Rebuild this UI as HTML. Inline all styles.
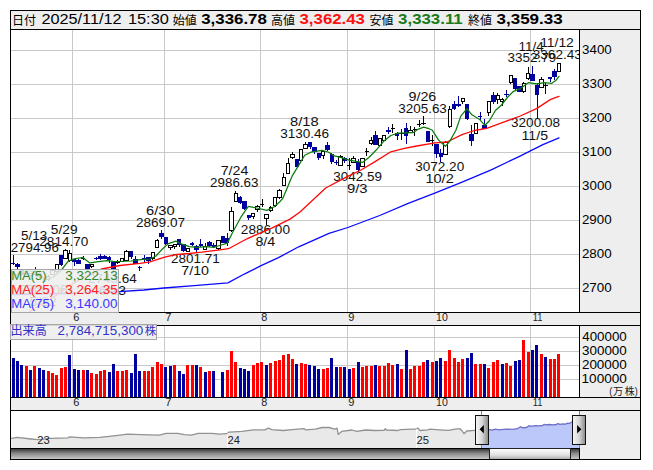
<!DOCTYPE html>
<html><head><meta charset="utf-8"><title>chart</title>
<style>html,body{margin:0;padding:0;background:#fff;overflow:hidden}svg{display:block}</style>
</head><body>
<svg width="653" height="470" viewBox="0 0 653 470" font-family="Liberation Sans, sans-serif" shape-rendering="crispEdges">
<defs><linearGradient id="trk" x1="0" y1="0" x2="0" y2="1"><stop offset="0" stop-color="#2a2a2a"/><stop offset="0.5" stop-color="#8a8a8a"/><stop offset="1" stop-color="#c8c8c8"/></linearGradient><linearGradient id="thm" x1="0" y1="0" x2="0" y2="1"><stop offset="0" stop-color="#ffffff"/><stop offset="0.6" stop-color="#e0e0e0"/><stop offset="1" stop-color="#a8a8a8"/></linearGradient><linearGradient id="hnd" x1="0" y1="0" x2="1" y2="0"><stop offset="0" stop-color="#f8f8f8"/><stop offset="0.5" stop-color="#d8d8d8"/><stop offset="1" stop-color="#888"/></linearGradient><clipPath id="cpm"><rect x="11" y="30" width="568" height="282"/></clipPath><clipPath id="cpv"><rect x="11" y="326" width="568" height="71"/></clipPath></defs>
<rect x="0" y="0" width="653" height="470" fill="#fff"/>
<rect x="10" y="10" width="631" height="20" fill="#eee"/>
<rect x="579" y="29" width="62" height="430" fill="#eee"/>
<rect x="10" y="312" width="631" height="14" fill="#eee"/>
<rect x="10" y="397" width="631" height="14" fill="#eee"/>
<rect x="72" y="30" width="1" height="282" fill="#c9c9c9"/>
<rect x="72" y="326" width="1" height="71" fill="#c9c9c9"/>
<rect x="164" y="30" width="1" height="282" fill="#c9c9c9"/>
<rect x="164" y="326" width="1" height="71" fill="#c9c9c9"/>
<rect x="260" y="30" width="1" height="282" fill="#c9c9c9"/>
<rect x="260" y="326" width="1" height="71" fill="#c9c9c9"/>
<rect x="347" y="30" width="1" height="282" fill="#c9c9c9"/>
<rect x="347" y="326" width="1" height="71" fill="#c9c9c9"/>
<rect x="434" y="30" width="1" height="282" fill="#c9c9c9"/>
<rect x="434" y="326" width="1" height="71" fill="#c9c9c9"/>
<rect x="530" y="30" width="1" height="282" fill="#c9c9c9"/>
<rect x="530" y="326" width="1" height="71" fill="#c9c9c9"/>
<rect x="11" y="50" width="568" height="1" fill="#c9c9c9"/>
<rect x="11" y="84" width="568" height="1" fill="#c9c9c9"/>
<rect x="11" y="118" width="568" height="1" fill="#c9c9c9"/>
<rect x="11" y="152" width="568" height="1" fill="#c9c9c9"/>
<rect x="11" y="186" width="568" height="1" fill="#c9c9c9"/>
<rect x="11" y="220" width="568" height="1" fill="#c9c9c9"/>
<rect x="11" y="254" width="568" height="1" fill="#c9c9c9"/>
<rect x="11" y="288" width="568" height="1" fill="#c9c9c9"/>
<rect x="11" y="337" width="568" height="1" fill="#c9c9c9"/>
<rect x="11" y="351" width="568" height="1" fill="#c9c9c9"/>
<rect x="11" y="365" width="568" height="1" fill="#c9c9c9"/>
<rect x="11" y="379" width="568" height="1" fill="#c9c9c9"/>
<g clip-path="url(#cpm)">
<rect x="13" y="255" width="1" height="10" fill="#00009f"/>
<rect x="11" y="263" width="4" height="1" fill="#00009f"/>
<rect x="17" y="263" width="1" height="6" fill="#00009f"/>
<rect x="15" y="264" width="5" height="3" fill="#00009f"/>
<rect x="21" y="270" width="1" height="6" fill="#00009f"/>
<rect x="20" y="270" width="4" height="5" fill="#00009f"/>
<rect x="26" y="272" width="1" height="5" fill="#00009f"/>
<rect x="24" y="273" width="4" height="1" fill="#00009f"/>
<rect x="30" y="273" width="1" height="4" fill="#000"/>
<rect x="28.5" y="273.5" width="4" height="2" fill="#fff" stroke="#000" stroke-width="1"/>
<rect x="35" y="267" width="1" height="9" fill="#00009f"/>
<rect x="33" y="271" width="4" height="4" fill="#00009f"/>
<rect x="39" y="272" width="1" height="6" fill="#00009f"/>
<rect x="37" y="273" width="5" height="4" fill="#00009f"/>
<rect x="43" y="278" width="1" height="8" fill="#00009f"/>
<rect x="42" y="281" width="4" height="1" fill="#00009f"/>
<rect x="48" y="275" width="1" height="6" fill="#000"/>
<rect x="46.5" y="276.5" width="3" height="3" fill="#fff" stroke="#000" stroke-width="1"/>
<rect x="52" y="270" width="1" height="5" fill="#000"/>
<rect x="50.5" y="270.5" width="4" height="4" fill="#fff" stroke="#000" stroke-width="1"/>
<rect x="56" y="264" width="1" height="9" fill="#000"/>
<rect x="55.5" y="264.5" width="3" height="7" fill="#fff" stroke="#000" stroke-width="1"/>
<rect x="61" y="255" width="1" height="11" fill="#00009f"/>
<rect x="59" y="255" width="4" height="10" fill="#00009f"/>
<rect x="65" y="249" width="1" height="10" fill="#000"/>
<rect x="63.5" y="250.5" width="4" height="8" fill="#fff" stroke="#000" stroke-width="1"/>
<rect x="69" y="250" width="1" height="12" fill="#000"/>
<rect x="68.5" y="253.5" width="3" height="7" fill="#fff" stroke="#000" stroke-width="1"/>
<rect x="74" y="259" width="1" height="7" fill="#00009f"/>
<rect x="72" y="259" width="4" height="3" fill="#00009f"/>
<rect x="78" y="259" width="1" height="5" fill="#00009f"/>
<rect x="76" y="260" width="5" height="4" fill="#00009f"/>
<rect x="83" y="256" width="1" height="4" fill="#000"/>
<rect x="81" y="258" width="4" height="1" fill="#000"/>
<rect x="87" y="264" width="1" height="7" fill="#00009f"/>
<rect x="85" y="264" width="5" height="6" fill="#00009f"/>
<rect x="91" y="264" width="1" height="4" fill="#000"/>
<rect x="90.5" y="264.5" width="3" height="2" fill="#fff" stroke="#000" stroke-width="1"/>
<rect x="96" y="257" width="1" height="3" fill="#00009f"/>
<rect x="94" y="258" width="4" height="1" fill="#00009f"/>
<rect x="100" y="254" width="1" height="6" fill="#00009f"/>
<rect x="98" y="256" width="5" height="3" fill="#00009f"/>
<rect x="104" y="255" width="1" height="4" fill="#00009f"/>
<rect x="103" y="256" width="4" height="3" fill="#00009f"/>
<rect x="109" y="256" width="1" height="7" fill="#00009f"/>
<rect x="107" y="257" width="4" height="3" fill="#00009f"/>
<rect x="113" y="262" width="1" height="11" fill="#00009f"/>
<rect x="111" y="262" width="5" height="8" fill="#00009f"/>
<rect x="117" y="260" width="1" height="4" fill="#000"/>
<rect x="116" y="262" width="4" height="1" fill="#000"/>
<rect x="122" y="258" width="1" height="4" fill="#000"/>
<rect x="120.5" y="258.5" width="3" height="3" fill="#fff" stroke="#000" stroke-width="1"/>
<rect x="126" y="250" width="1" height="11" fill="#000"/>
<rect x="124.5" y="251.5" width="4" height="9" fill="#fff" stroke="#000" stroke-width="1"/>
<rect x="131" y="251" width="1" height="8" fill="#00009f"/>
<rect x="129" y="251" width="4" height="6" fill="#00009f"/>
<rect x="135" y="256" width="1" height="8" fill="#00009f"/>
<rect x="133" y="259" width="5" height="5" fill="#00009f"/>
<rect x="139" y="266" width="1" height="5" fill="#00009f"/>
<rect x="138" y="267" width="4" height="1" fill="#00009f"/>
<rect x="144" y="255" width="1" height="7" fill="#00009f"/>
<rect x="142" y="258" width="4" height="2" fill="#00009f"/>
<rect x="148" y="257" width="1" height="7" fill="#00009f"/>
<rect x="146" y="257" width="5" height="4" fill="#00009f"/>
<rect x="152" y="252" width="1" height="8" fill="#000"/>
<rect x="151.5" y="252.5" width="3" height="6" fill="#fff" stroke="#000" stroke-width="1"/>
<rect x="157" y="239" width="1" height="9" fill="#000"/>
<rect x="155.5" y="240.5" width="3" height="7" fill="#fff" stroke="#000" stroke-width="1"/>
<rect x="161" y="230" width="1" height="9" fill="#00009f"/>
<rect x="159" y="233" width="5" height="4" fill="#00009f"/>
<rect x="165" y="237" width="1" height="8" fill="#00009f"/>
<rect x="164" y="237" width="4" height="7" fill="#00009f"/>
<rect x="170" y="245" width="1" height="5" fill="#000"/>
<rect x="168.5" y="245.5" width="4" height="2" fill="#fff" stroke="#000" stroke-width="1"/>
<rect x="174" y="244" width="1" height="5" fill="#000"/>
<rect x="173.5" y="244.5" width="3" height="2" fill="#fff" stroke="#000" stroke-width="1"/>
<rect x="179" y="239" width="1" height="8" fill="#00009f"/>
<rect x="177" y="239" width="4" height="6" fill="#00009f"/>
<rect x="183" y="244" width="1" height="8" fill="#00009f"/>
<rect x="181" y="244" width="5" height="7" fill="#00009f"/>
<rect x="187" y="248" width="1" height="4" fill="#000"/>
<rect x="186.5" y="248.5" width="3" height="3" fill="#fff" stroke="#000" stroke-width="1"/>
<rect x="192" y="242" width="1" height="4" fill="#00009f"/>
<rect x="190" y="243" width="4" height="2" fill="#00009f"/>
<rect x="196" y="245" width="1" height="8" fill="#00009f"/>
<rect x="194" y="246" width="5" height="4" fill="#00009f"/>
<rect x="200" y="239" width="1" height="8" fill="#00009f"/>
<rect x="199" y="244" width="4" height="2" fill="#00009f"/>
<rect x="205" y="243" width="1" height="7" fill="#000"/>
<rect x="203.5" y="246.5" width="3" height="3" fill="#fff" stroke="#000" stroke-width="1"/>
<rect x="209" y="241" width="1" height="6" fill="#00009f"/>
<rect x="207" y="242" width="5" height="4" fill="#00009f"/>
<rect x="213" y="243" width="1" height="5" fill="#00009f"/>
<rect x="212" y="245" width="4" height="2" fill="#00009f"/>
<rect x="218" y="240" width="1" height="10" fill="#000"/>
<rect x="216.5" y="240.5" width="4" height="8" fill="#fff" stroke="#000" stroke-width="1"/>
<rect x="222" y="236" width="1" height="7" fill="#00009f"/>
<rect x="221" y="236" width="4" height="7" fill="#00009f"/>
<rect x="227" y="233" width="1" height="13" fill="#00009f"/>
<rect x="225" y="238" width="4" height="5" fill="#00009f"/>
<rect x="231" y="207" width="1" height="25" fill="#000"/>
<rect x="229.5" y="211.5" width="4" height="19" fill="#fff" stroke="#000" stroke-width="1"/>
<rect x="235" y="191" width="1" height="11" fill="#000"/>
<rect x="234.5" y="193.5" width="3" height="8" fill="#fff" stroke="#000" stroke-width="1"/>
<rect x="240" y="196" width="1" height="8" fill="#00009f"/>
<rect x="238" y="197" width="4" height="6" fill="#00009f"/>
<rect x="244" y="201" width="1" height="9" fill="#00009f"/>
<rect x="242" y="201" width="5" height="8" fill="#00009f"/>
<rect x="248" y="215" width="1" height="5" fill="#00009f"/>
<rect x="247" y="215" width="4" height="3" fill="#00009f"/>
<rect x="253" y="213" width="1" height="6" fill="#000"/>
<rect x="251.5" y="213.5" width="3" height="3" fill="#fff" stroke="#000" stroke-width="1"/>
<rect x="257" y="205" width="1" height="7" fill="#000"/>
<rect x="255.5" y="206.5" width="4" height="3" fill="#fff" stroke="#000" stroke-width="1"/>
<rect x="262" y="199" width="1" height="8" fill="#000"/>
<rect x="260" y="204" width="4" height="1" fill="#000"/>
<rect x="266" y="214" width="1" height="11" fill="#000"/>
<rect x="264.5" y="214.5" width="4" height="4" fill="#fff" stroke="#000" stroke-width="1"/>
<rect x="270" y="206" width="1" height="6" fill="#000"/>
<rect x="269.5" y="207.5" width="3" height="3" fill="#fff" stroke="#000" stroke-width="1"/>
<rect x="275" y="197" width="1" height="10" fill="#000"/>
<rect x="273.5" y="197.5" width="3" height="8" fill="#fff" stroke="#000" stroke-width="1"/>
<rect x="279" y="189" width="1" height="10" fill="#000"/>
<rect x="277.5" y="190.5" width="4" height="7" fill="#fff" stroke="#000" stroke-width="1"/>
<rect x="283" y="173" width="1" height="13" fill="#000"/>
<rect x="282.5" y="177.5" width="3" height="8" fill="#fff" stroke="#000" stroke-width="1"/>
<rect x="288" y="158" width="1" height="16" fill="#000"/>
<rect x="286.5" y="163.5" width="3" height="10" fill="#fff" stroke="#000" stroke-width="1"/>
<rect x="292" y="152" width="1" height="7" fill="#000"/>
<rect x="290.5" y="154.5" width="4" height="3" fill="#fff" stroke="#000" stroke-width="1"/>
<rect x="296" y="159" width="1" height="8" fill="#00009f"/>
<rect x="295" y="159" width="4" height="8" fill="#00009f"/>
<rect x="301" y="149" width="1" height="12" fill="#000"/>
<rect x="299.5" y="149.5" width="3" height="11" fill="#fff" stroke="#000" stroke-width="1"/>
<rect x="305" y="142" width="1" height="7" fill="#000"/>
<rect x="303.5" y="144.5" width="4" height="4" fill="#fff" stroke="#000" stroke-width="1"/>
<rect x="310" y="142" width="1" height="7" fill="#00009f"/>
<rect x="308" y="142" width="4" height="5" fill="#00009f"/>
<rect x="314" y="147" width="1" height="7" fill="#00009f"/>
<rect x="312" y="147" width="5" height="5" fill="#00009f"/>
<rect x="318" y="153" width="1" height="7" fill="#00009f"/>
<rect x="317" y="153" width="4" height="5" fill="#00009f"/>
<rect x="323" y="151" width="1" height="8" fill="#000"/>
<rect x="321.5" y="151.5" width="3" height="4" fill="#fff" stroke="#000" stroke-width="1"/>
<rect x="327" y="142" width="1" height="9" fill="#00009f"/>
<rect x="325" y="145" width="5" height="5" fill="#00009f"/>
<rect x="331" y="153" width="1" height="11" fill="#00009f"/>
<rect x="330" y="154" width="4" height="8" fill="#00009f"/>
<rect x="336" y="160" width="1" height="5" fill="#00009f"/>
<rect x="334" y="162" width="4" height="1" fill="#00009f"/>
<rect x="340" y="155" width="1" height="11" fill="#000"/>
<rect x="338.5" y="156.5" width="4" height="9" fill="#fff" stroke="#000" stroke-width="1"/>
<rect x="344" y="157" width="1" height="6" fill="#00009f"/>
<rect x="343" y="158" width="4" height="3" fill="#00009f"/>
<rect x="349" y="158" width="1" height="12" fill="#000"/>
<rect x="347" y="165" width="4" height="1" fill="#000"/>
<rect x="353" y="156" width="1" height="7" fill="#000"/>
<rect x="351.5" y="158.5" width="4" height="4" fill="#fff" stroke="#000" stroke-width="1"/>
<rect x="358" y="159" width="1" height="13" fill="#00009f"/>
<rect x="356" y="162" width="4" height="8" fill="#00009f"/>
<rect x="362" y="158" width="1" height="9" fill="#000"/>
<rect x="360.5" y="158.5" width="4" height="8" fill="#fff" stroke="#000" stroke-width="1"/>
<rect x="366" y="148" width="1" height="8" fill="#000"/>
<rect x="365" y="151" width="4" height="1" fill="#000"/>
<rect x="371" y="137" width="1" height="8" fill="#000"/>
<rect x="369.5" y="140.5" width="3" height="3" fill="#fff" stroke="#000" stroke-width="1"/>
<rect x="375" y="131" width="1" height="14" fill="#00009f"/>
<rect x="373" y="135" width="5" height="10" fill="#00009f"/>
<rect x="379" y="138" width="1" height="8" fill="#000"/>
<rect x="378.5" y="138.5" width="3" height="7" fill="#fff" stroke="#000" stroke-width="1"/>
<rect x="384" y="135" width="1" height="6" fill="#000"/>
<rect x="382.5" y="135.5" width="3" height="5" fill="#fff" stroke="#000" stroke-width="1"/>
<rect x="388" y="127" width="1" height="7" fill="#00009f"/>
<rect x="386" y="130" width="5" height="2" fill="#00009f"/>
<rect x="392" y="124" width="1" height="9" fill="#000"/>
<rect x="391" y="128" width="4" height="1" fill="#000"/>
<rect x="397" y="132" width="1" height="8" fill="#00009f"/>
<rect x="395" y="133" width="4" height="3" fill="#00009f"/>
<rect x="401" y="129" width="1" height="11" fill="#000"/>
<rect x="399" y="133" width="5" height="1" fill="#000"/>
<rect x="406" y="123" width="1" height="21" fill="#00009f"/>
<rect x="404" y="128" width="4" height="8" fill="#00009f"/>
<rect x="410" y="126" width="1" height="7" fill="#000"/>
<rect x="408.5" y="130.5" width="4" height="2" fill="#fff" stroke="#000" stroke-width="1"/>
<rect x="414" y="127" width="1" height="9" fill="#000"/>
<rect x="413" y="129" width="4" height="1" fill="#000"/>
<rect x="419" y="120" width="1" height="7" fill="#000"/>
<rect x="417" y="124" width="4" height="1" fill="#000"/>
<rect x="423" y="116" width="1" height="9" fill="#000"/>
<rect x="421" y="123" width="5" height="1" fill="#000"/>
<rect x="427" y="131" width="1" height="11" fill="#00009f"/>
<rect x="426" y="131" width="4" height="11" fill="#00009f"/>
<rect x="432" y="135" width="1" height="11" fill="#000"/>
<rect x="430" y="140" width="4" height="1" fill="#000"/>
<rect x="436" y="144" width="1" height="14" fill="#00009f"/>
<rect x="434" y="144" width="5" height="10" fill="#00009f"/>
<rect x="440" y="149" width="1" height="13" fill="#00009f"/>
<rect x="439" y="153" width="4" height="4" fill="#00009f"/>
<rect x="445" y="141" width="1" height="14" fill="#000"/>
<rect x="443.5" y="142.5" width="4" height="12" fill="#fff" stroke="#000" stroke-width="1"/>
<rect x="449" y="106" width="1" height="22" fill="#000"/>
<rect x="448.5" y="109.5" width="3" height="17" fill="#fff" stroke="#000" stroke-width="1"/>
<rect x="454" y="101" width="1" height="9" fill="#00009f"/>
<rect x="452" y="104" width="4" height="5" fill="#00009f"/>
<rect x="458" y="96" width="1" height="11" fill="#00009f"/>
<rect x="456" y="104" width="5" height="2" fill="#00009f"/>
<rect x="462" y="98" width="1" height="6" fill="#000"/>
<rect x="461.5" y="98.5" width="3" height="3" fill="#fff" stroke="#000" stroke-width="1"/>
<rect x="467" y="104" width="1" height="16" fill="#00009f"/>
<rect x="465" y="104" width="4" height="15" fill="#00009f"/>
<rect x="471" y="125" width="1" height="21" fill="#00009f"/>
<rect x="469" y="134" width="5" height="7" fill="#00009f"/>
<rect x="475" y="123" width="1" height="11" fill="#000"/>
<rect x="474.5" y="123.5" width="3" height="10" fill="#fff" stroke="#000" stroke-width="1"/>
<rect x="480" y="112" width="1" height="8" fill="#00009f"/>
<rect x="478" y="116" width="4" height="1" fill="#00009f"/>
<rect x="484" y="119" width="1" height="10" fill="#00009f"/>
<rect x="482" y="125" width="5" height="4" fill="#00009f"/>
<rect x="488" y="101" width="1" height="15" fill="#000"/>
<rect x="487.5" y="101.5" width="3" height="11" fill="#fff" stroke="#000" stroke-width="1"/>
<rect x="493" y="92" width="1" height="12" fill="#00009f"/>
<rect x="491" y="95" width="5" height="7" fill="#00009f"/>
<rect x="497" y="93" width="1" height="11" fill="#000"/>
<rect x="496.5" y="95.5" width="3" height="4" fill="#fff" stroke="#000" stroke-width="1"/>
<rect x="502" y="98" width="1" height="8" fill="#000"/>
<rect x="500.5" y="99.5" width="3" height="2" fill="#fff" stroke="#000" stroke-width="1"/>
<rect x="506" y="90" width="1" height="7" fill="#00009f"/>
<rect x="504" y="94" width="5" height="1" fill="#00009f"/>
<rect x="510" y="75" width="1" height="9" fill="#000"/>
<rect x="509.5" y="75.5" width="3" height="7" fill="#fff" stroke="#000" stroke-width="1"/>
<rect x="515" y="78" width="1" height="12" fill="#00009f"/>
<rect x="513" y="78" width="4" height="11" fill="#00009f"/>
<rect x="519" y="86" width="1" height="6" fill="#00009f"/>
<rect x="517" y="86" width="5" height="6" fill="#00009f"/>
<rect x="523" y="82" width="1" height="11" fill="#000"/>
<rect x="522.5" y="83.5" width="3" height="8" fill="#fff" stroke="#000" stroke-width="1"/>
<rect x="528" y="67" width="1" height="13" fill="#000"/>
<rect x="526.5" y="73.5" width="3" height="5" fill="#fff" stroke="#000" stroke-width="1"/>
<rect x="532" y="66" width="1" height="15" fill="#00009f"/>
<rect x="530" y="74" width="5" height="7" fill="#00009f"/>
<rect x="537" y="83" width="1" height="35" fill="#00009f"/>
<rect x="535" y="85" width="4" height="10" fill="#00009f"/>
<rect x="541" y="77" width="1" height="11" fill="#000"/>
<rect x="539.5" y="79.5" width="4" height="8" fill="#fff" stroke="#000" stroke-width="1"/>
<rect x="545" y="83" width="1" height="11" fill="#000"/>
<rect x="544" y="85" width="4" height="1" fill="#000"/>
<rect x="550" y="77" width="1" height="5" fill="#00009f"/>
<rect x="548" y="77" width="4" height="2" fill="#00009f"/>
<rect x="554" y="69" width="1" height="11" fill="#00009f"/>
<rect x="552" y="71" width="5" height="6" fill="#00009f"/>
<rect x="558" y="63" width="1" height="9" fill="#000"/>
<rect x="557.5" y="63.5" width="3" height="8" fill="#fff" stroke="#000" stroke-width="1"/>
<g shape-rendering="geometricPrecision">
<text transform="translate(10.63,252) scale(1.0430,1)" font-size="12.8" fill="#111">2794.96</text><text transform="translate(20.96,240) scale(1.0530,1)" font-size="12.8" fill="#111">5/13</text>
<text transform="translate(39.32,246) scale(1.0615,1)" font-size="12.8" fill="#111">2814.70</text><text transform="translate(50.85,234) scale(1.0717,1)" font-size="12.8" fill="#111">5/29</text>
<text transform="translate(135.92,227) scale(1.0627,1)" font-size="12.8" fill="#111">2869.07</text><text transform="translate(146.05,215) scale(1.1489,1)" font-size="12.8" fill="#111">6/30</text>
<text transform="translate(210.03,186.5) scale(1.0474,1)" font-size="12.8" fill="#111">2986.63</text><text transform="translate(220.67,175) scale(1.1138,1)" font-size="12.8" fill="#111">7/24</text>
<text transform="translate(280.18,137.5) scale(1.0593,1)" font-size="12.8" fill="#111">3130.46</text><text transform="translate(290.06,126) scale(1.1471,1)" font-size="12.8" fill="#111">8/18</text>
<text transform="translate(398.29,112.7) scale(1.0504,1)" font-size="12.8" fill="#111">3205.63</text><text transform="translate(408.43,101) scale(1.1200,1)" font-size="12.8" fill="#111">9/26</text>
<text transform="translate(507.59,62.3) scale(1.0515,1)" font-size="12.8" fill="#111">3352.79</text><text transform="translate(518.47,50.7) scale(1.0525,1)" font-size="12.8" fill="#111">11/4</text>
<text transform="translate(532.78,58.7) scale(1.0593,1)" font-size="12.8" fill="#111">3362.43</text><text transform="translate(540.14,46.5) scale(1.0851,1)" font-size="12.8" fill="#111">11/12</text>
<text transform="translate(87.92,282.8) scale(1.0541,1)" font-size="12.8" fill="#111">2743.64</text><text transform="translate(98.79,294.8) scale(1.0928,1)" font-size="12.8" fill="#111">6/13</text>
<text transform="translate(171.02,262.7) scale(1.0511,1)" font-size="12.8" fill="#111">2801.71</text><text transform="translate(181.27,275) scale(1.1155,1)" font-size="12.8" fill="#111">7/10</text>
<text transform="translate(240.82,234.4) scale(1.0637,1)" font-size="12.8" fill="#111">2886.00</text><text transform="translate(255.38,245.7) scale(1.1208,1)" font-size="12.8" fill="#111">8/4</text>
<text transform="translate(333.29,180.9) scale(1.0515,1)" font-size="12.8" fill="#111">3042.59</text><text transform="translate(346.90,193) scale(1.1605,1)" font-size="12.8" fill="#111">9/3</text>
<text transform="translate(415.28,170.8) scale(1.0578,1)" font-size="12.8" fill="#111">3072.20</text><text transform="translate(425.39,182.6) scale(1.1419,1)" font-size="12.8" fill="#111">10/2</text>
<text transform="translate(510.98,127.4) scale(1.0614,1)" font-size="12.8" fill="#111">3200.08</text><text transform="translate(521.52,139.6) scale(1.1068,1)" font-size="12.8" fill="#111">11/5</text>
<text transform="translate(18.82,294) scale(1.0541,1)" font-size="12.8" fill="#111">2706.06</text><text transform="translate(29.44,306) scale(1.0944,1)" font-size="12.8" fill="#111">5/22</text>
</g>
<polyline fill="none" stroke="#0a0aff" stroke-width="1.3" stroke-linejoin="round" stroke-linecap="round" shape-rendering="geometricPrecision" points="11.0,294.6 40.0,294.2 70.0,293.5 119.4,291.7 143.7,290.0 163.9,288.0 194.2,285.6 227.9,282.9 244.8,273.8 261.6,265.4 278.5,257.6 298.7,246.8 312.2,240.8 329.0,233.4 347.9,227.5 379.7,215.5 407.6,203.6 435.4,192.9 463.3,181.7 491.2,169.8 519.0,156.6 542.9,144.7 559.0,137.9"/>
<polyline fill="none" stroke="#ff0808" stroke-width="1.3" stroke-linejoin="round" stroke-linecap="round" shape-rendering="geometricPrecision" points="24.0,316.0 30.4,311.0 45.0,302.0 59.0,293.5 67.0,287.4 80.0,279.5 90.0,274.0 101.5,269.0 120.0,265.5 140.0,263.4 150.0,261.8 164.7,257.2 177.0,254.3 189.4,253.5 201.7,252.2 220.0,249.8 228.5,248.7 247.0,238.8 259.4,233.3 271.7,228.1 290.0,219.1 300.0,212.0 325.7,188.0 346.7,176.9 361.0,170.0 373.5,162.6 390.8,151.8 404.4,148.4 416.7,146.0 435.0,142.9 447.0,142.0 462.0,134.6 474.4,130.5 486.7,128.4 505.0,121.6 520.3,116.0 537.0,108.4 550.6,99.4 559.0,96.3"/>
<polyline fill="none" stroke="#0c7c0c" stroke-width="1.25" stroke-linejoin="round" stroke-linecap="round" shape-rendering="geometricPrecision" points="11.0,281.0 13.5,278.5 17.5,274.0 22.0,271.5 26.5,270.8 31.0,271.0 35.0,273.1 39.5,275.3 44.0,278.6 48.0,279.2 52.5,277.5 57.0,274.3 62.5,268.7 68.0,261.3 74.2,258.8 82.8,257.5 89.8,262.9 98.4,261.6 107.0,260.6 113.2,261.4 119.0,261.5 131.0,261.0 140.0,259.7 150.0,259.0 156.0,256.0 161.6,249.8 168.4,243.6 175.8,241.1 182.0,244.2 189.4,246.7 196.8,247.3 206.7,246.7 214.0,247.3 218.0,246.0 227.3,243.1 232.8,232.0 240.9,217.2 248.3,206.4 256.9,208.0 266.8,210.4 274.2,206.7 280.4,201.2 283.0,198.0 292.3,175.8 299.1,164.7 304.7,155.3 310.9,152.2 322.0,150.4 328.2,152.0 334.4,155.9 340.6,157.4 349.2,160.2 359.1,161.9 362.4,162.4 368.6,157.7 376.0,150.3 383.4,141.6 390.8,135.5 398.2,133.2 413.0,132.7 418.0,129.3 423.5,127.1 429.0,128.7 432.4,130.3 438.6,140.1 445.4,146.3 449.7,141.4 455.9,130.3 460.8,116.1 467.0,108.7 471.9,114.8 479.3,119.2 484.9,125.3 489.2,121.0 495.4,110.5 501.5,105.0 507.3,97.5 513.5,91.3 519.7,88.9 528.3,82.7 537.0,83.9 544.4,82.7 551.8,83.3 555.5,80.8 559.0,76.3"/>
<!--LABELS-->
</g>
<g clip-path="url(#cpv)">
<rect x="12" y="358" width="3" height="39" fill="#00009f"/>
<rect x="16" y="361" width="3" height="36" fill="#00009f"/>
<rect x="20" y="365" width="3" height="32" fill="#00009f"/>
<rect x="25" y="366" width="3" height="31" fill="#ff0000"/>
<rect x="29" y="370" width="3" height="27" fill="#00009f"/>
<rect x="33" y="366" width="3" height="31" fill="#ff0000"/>
<rect x="38" y="368" width="3" height="29" fill="#00009f"/>
<rect x="42" y="370" width="3" height="27" fill="#00009f"/>
<rect x="47" y="371" width="3" height="26" fill="#ff0000"/>
<rect x="51" y="373" width="3" height="24" fill="#ff0000"/>
<rect x="55" y="375" width="3" height="22" fill="#ff0000"/>
<rect x="60" y="368" width="3" height="29" fill="#ff0000"/>
<rect x="64" y="367" width="3" height="30" fill="#ff0000"/>
<rect x="68" y="355" width="3" height="42" fill="#00009f"/>
<rect x="73" y="369" width="3" height="28" fill="#00009f"/>
<rect x="77" y="370" width="3" height="27" fill="#00009f"/>
<rect x="82" y="370" width="3" height="27" fill="#ff0000"/>
<rect x="86" y="370" width="3" height="27" fill="#00009f"/>
<rect x="90" y="373" width="3" height="24" fill="#ff0000"/>
<rect x="95" y="374" width="3" height="23" fill="#ff0000"/>
<rect x="99" y="371" width="3" height="26" fill="#ff0000"/>
<rect x="103" y="370" width="3" height="27" fill="#ff0000"/>
<rect x="108" y="372" width="3" height="25" fill="#00009f"/>
<rect x="112" y="364" width="3" height="33" fill="#00009f"/>
<rect x="116" y="371" width="3" height="26" fill="#ff0000"/>
<rect x="121" y="371" width="3" height="26" fill="#ff0000"/>
<rect x="125" y="370" width="3" height="27" fill="#ff0000"/>
<rect x="130" y="373" width="3" height="24" fill="#00009f"/>
<rect x="134" y="354" width="3" height="43" fill="#00009f"/>
<rect x="138" y="371" width="3" height="26" fill="#00009f"/>
<rect x="143" y="371" width="3" height="26" fill="#ff0000"/>
<rect x="147" y="371" width="3" height="26" fill="#ff0000"/>
<rect x="151" y="367" width="3" height="30" fill="#ff0000"/>
<rect x="156" y="362" width="3" height="35" fill="#ff0000"/>
<rect x="160" y="364" width="3" height="33" fill="#ff0000"/>
<rect x="164" y="367" width="3" height="30" fill="#00009f"/>
<rect x="169" y="366" width="3" height="31" fill="#00009f"/>
<rect x="173" y="365" width="3" height="32" fill="#ff0000"/>
<rect x="178" y="371" width="3" height="26" fill="#00009f"/>
<rect x="182" y="374" width="3" height="23" fill="#00009f"/>
<rect x="186" y="365" width="3" height="32" fill="#ff0000"/>
<rect x="191" y="365" width="3" height="32" fill="#ff0000"/>
<rect x="195" y="365" width="3" height="32" fill="#00009f"/>
<rect x="199" y="367" width="3" height="30" fill="#ff0000"/>
<rect x="204" y="372" width="3" height="25" fill="#00009f"/>
<rect x="208" y="371" width="3" height="26" fill="#ff0000"/>
<rect x="212" y="371" width="3" height="26" fill="#00009f"/>
<rect x="221" y="372" width="3" height="25" fill="#00009f"/>
<rect x="226" y="370" width="3" height="27" fill="#ff0000"/>
<rect x="230" y="351" width="3" height="46" fill="#ff0000"/>
<rect x="234" y="362" width="3" height="35" fill="#ff0000"/>
<rect x="239" y="368" width="3" height="29" fill="#00009f"/>
<rect x="243" y="369" width="3" height="28" fill="#00009f"/>
<rect x="247" y="371" width="3" height="26" fill="#00009f"/>
<rect x="252" y="365" width="3" height="32" fill="#ff0000"/>
<rect x="256" y="363" width="3" height="34" fill="#ff0000"/>
<rect x="260" y="362" width="3" height="35" fill="#ff0000"/>
<rect x="265" y="365" width="3" height="32" fill="#00009f"/>
<rect x="269" y="363" width="3" height="34" fill="#ff0000"/>
<rect x="274" y="361" width="3" height="36" fill="#ff0000"/>
<rect x="278" y="360" width="3" height="37" fill="#ff0000"/>
<rect x="282" y="355" width="3" height="42" fill="#ff0000"/>
<rect x="287" y="354" width="3" height="43" fill="#ff0000"/>
<rect x="291" y="359" width="3" height="38" fill="#ff0000"/>
<rect x="295" y="364" width="3" height="33" fill="#00009f"/>
<rect x="300" y="363" width="3" height="34" fill="#ff0000"/>
<rect x="304" y="364" width="3" height="33" fill="#ff0000"/>
<rect x="308" y="365" width="3" height="32" fill="#00009f"/>
<rect x="313" y="366" width="3" height="31" fill="#00009f"/>
<rect x="317" y="369" width="3" height="28" fill="#00009f"/>
<rect x="322" y="369" width="3" height="28" fill="#ff0000"/>
<rect x="326" y="368" width="3" height="29" fill="#ff0000"/>
<rect x="330" y="358" width="3" height="39" fill="#00009f"/>
<rect x="335" y="367" width="3" height="30" fill="#00009f"/>
<rect x="339" y="367" width="3" height="30" fill="#ff0000"/>
<rect x="343" y="367" width="3" height="30" fill="#00009f"/>
<rect x="348" y="369" width="3" height="28" fill="#00009f"/>
<rect x="352" y="368" width="3" height="29" fill="#ff0000"/>
<rect x="357" y="362" width="3" height="35" fill="#00009f"/>
<rect x="361" y="367" width="3" height="30" fill="#ff0000"/>
<rect x="365" y="366" width="3" height="31" fill="#ff0000"/>
<rect x="370" y="366" width="3" height="31" fill="#ff0000"/>
<rect x="374" y="365" width="3" height="32" fill="#00009f"/>
<rect x="378" y="366" width="3" height="31" fill="#ff0000"/>
<rect x="383" y="366" width="3" height="31" fill="#ff0000"/>
<rect x="387" y="363" width="3" height="34" fill="#ff0000"/>
<rect x="391" y="365" width="3" height="32" fill="#ff0000"/>
<rect x="396" y="364" width="3" height="33" fill="#00009f"/>
<rect x="400" y="369" width="3" height="28" fill="#ff0000"/>
<rect x="405" y="350" width="3" height="47" fill="#00009f"/>
<rect x="409" y="369" width="3" height="28" fill="#ff0000"/>
<rect x="413" y="366" width="3" height="31" fill="#ff0000"/>
<rect x="418" y="366" width="3" height="31" fill="#ff0000"/>
<rect x="422" y="362" width="3" height="35" fill="#ff0000"/>
<rect x="426" y="360" width="3" height="37" fill="#00009f"/>
<rect x="431" y="362" width="3" height="35" fill="#ff0000"/>
<rect x="435" y="361" width="3" height="36" fill="#00009f"/>
<rect x="439" y="358" width="3" height="39" fill="#00009f"/>
<rect x="444" y="361" width="3" height="36" fill="#ff0000"/>
<rect x="448" y="350" width="3" height="47" fill="#ff0000"/>
<rect x="453" y="358" width="3" height="39" fill="#ff0000"/>
<rect x="457" y="362" width="3" height="35" fill="#ff0000"/>
<rect x="461" y="359" width="3" height="38" fill="#ff0000"/>
<rect x="466" y="358" width="3" height="39" fill="#00009f"/>
<rect x="470" y="353" width="3" height="44" fill="#00009f"/>
<rect x="474" y="364" width="3" height="33" fill="#ff0000"/>
<rect x="479" y="364" width="3" height="33" fill="#ff0000"/>
<rect x="483" y="364" width="3" height="33" fill="#00009f"/>
<rect x="487" y="368" width="3" height="29" fill="#ff0000"/>
<rect x="492" y="362" width="3" height="35" fill="#ff0000"/>
<rect x="496" y="360" width="3" height="37" fill="#ff0000"/>
<rect x="501" y="364" width="3" height="33" fill="#00009f"/>
<rect x="505" y="363" width="3" height="34" fill="#ff0000"/>
<rect x="509" y="366" width="3" height="31" fill="#ff0000"/>
<rect x="514" y="361" width="3" height="36" fill="#00009f"/>
<rect x="518" y="360" width="3" height="37" fill="#00009f"/>
<rect x="522" y="340" width="3" height="57" fill="#ff0000"/>
<rect x="527" y="352" width="3" height="45" fill="#ff0000"/>
<rect x="531" y="350" width="3" height="47" fill="#00009f"/>
<rect x="535" y="345" width="3" height="52" fill="#00009f"/>
<rect x="540" y="354" width="3" height="43" fill="#ff0000"/>
<rect x="544" y="357" width="3" height="40" fill="#00009f"/>
<rect x="549" y="359" width="3" height="38" fill="#ff0000"/>
<rect x="553" y="359" width="3" height="38" fill="#ff0000"/>
<rect x="557" y="354" width="3" height="43" fill="#ff0000"/>
</g>
<g>
<polygon shape-rendering="geometricPrecision" fill="#e9e9e9" points="11.4,448 11.4,438.3 17.2,437.4 31.0,439.0 37.9,439.7 50.5,438.3 67.7,437.9 70.0,436.9 83.8,437.9 99.9,437.4 116.0,435.6 127.5,434.2 141.2,434.6 150.0,434.9 159.2,435.1 166.1,433.3 177.6,433.3 184.5,434.6 191.4,435.1 198.2,433.3 212.0,433.3 218.9,434.2 225.8,433.7 227.0,433.7 227.0,448"/>
<polyline fill="none" stroke="#929292" stroke-width="1.3" stroke-linejoin="round" stroke-linecap="round" shape-rendering="geometricPrecision" points="11.4,438.3 17.2,437.4 31.0,439.0 37.9,439.7 50.5,438.3 67.7,437.9 70.0,436.9 83.8,437.9 99.9,437.4 116.0,435.6 127.5,434.2 141.2,434.6 150.0,434.9 159.2,435.1 166.1,433.3 177.6,433.3 184.5,434.6 191.4,435.1 198.2,433.3 212.0,433.3 218.9,434.2 225.8,433.7 227.0,433.7"/>
<polygon shape-rendering="geometricPrecision" fill="#e9e9e9" points="228.0,448 228.0,432.3 229.3,432.1 241.9,431.4 253.4,429.8 264.9,429.8 268.3,428.2 271.8,429.6 283.2,430.5 292.4,429.6 303.8,428.7 306.1,429.8 315.3,429.1 322.2,427.5 329.1,427.5 334.8,429.1 337.1,428.2 338.2,434.4 341.7,431.4 352.0,430.0 356.6,431.4 365.8,430.0 375.0,430.5 384.2,430.3 385.3,428.7 386.5,430.0 398.0,430.5 400.3,429.6 414.0,429.1 416.0,429.1 416.0,448"/>
<polyline fill="none" stroke="#929292" stroke-width="1.3" stroke-linejoin="round" stroke-linecap="round" shape-rendering="geometricPrecision" points="228.0,432.3 229.3,432.1 241.9,431.4 253.4,429.8 264.9,429.8 268.3,428.2 271.8,429.6 283.2,430.5 292.4,429.6 303.8,428.7 306.1,429.8 315.3,429.1 322.2,427.5 329.1,427.5 334.8,429.1 337.1,428.2 338.2,434.4 341.7,431.4 352.0,430.0 356.6,431.4 365.8,430.0 375.0,430.5 384.2,430.3 385.3,428.7 386.5,430.0 398.0,430.5 400.3,429.6 414.0,429.1 416.0,429.1"/>
<polygon shape-rendering="geometricPrecision" fill="#e9e9e9" points="417.0,448 417.0,428.4 418.2,428.2 419.8,430.5 427.8,429.8 430.1,429.1 439.3,429.8 448.4,430.3 455.3,429.1 459.9,428.7 462.2,431.0 464.0,433.7 466.8,431.0 474.8,430.3 481.5,430.0 481.5,448"/>
<polyline fill="none" stroke="#929292" stroke-width="1.3" stroke-linejoin="round" stroke-linecap="round" shape-rendering="geometricPrecision" points="417.0,428.4 418.2,428.2 419.8,430.5 427.8,429.8 430.1,429.1 439.3,429.8 448.4,430.3 455.3,429.1 459.9,428.7 462.2,431.0 464.0,433.7 466.8,431.0 474.8,430.3 481.5,430.0"/>
<polygon shape-rendering="geometricPrecision" fill="#bcc8fa" points="481.7,448 481.7,430.3 485.1,430.1 488.6,429.4 492.0,430.1 495.5,429.1 498.9,429.8 503.5,429.4 508.1,429.1 512.7,429.4 517.3,428.7 519.6,427.3 520.7,426.8 523.0,427.8 526.5,427.5 528.8,425.9 532.2,426.1 535.7,425.7 539.1,425.9 542.6,425.5 544.2,424.3 546.0,424.8 549.5,424.5 552.9,424.8 556.3,424.5 558.0,423.6 559.8,424.3 563.2,423.9 565.5,424.1 567.8,423.2 569.4,423.6 571.3,422.2 572.9,422.2 579.3,422.0 579.3,448"/>
<polyline fill="none" stroke="#6f6fc6" stroke-width="1.3" stroke-linejoin="round" stroke-linecap="round" shape-rendering="geometricPrecision" points="481.7,430.3 485.1,430.1 488.6,429.4 492.0,430.1 495.5,429.1 498.9,429.8 503.5,429.4 508.1,429.1 512.7,429.4 517.3,428.7 519.6,427.3 520.7,426.8 523.0,427.8 526.5,427.5 528.8,425.9 532.2,426.1 535.7,425.7 539.1,425.9 542.6,425.5 544.2,424.3 546.0,424.8 549.5,424.5 552.9,424.8 556.3,424.5 558.0,423.6 559.8,424.3 563.2,423.9 565.5,424.1 567.8,423.2 569.4,423.6 571.3,422.2 572.9,422.2 579.3,422.0"/>
<g shape-rendering="geometricPrecision"><text transform="translate(37.33,444.2) scale(1.0861,1)" font-size="10.4" fill="#222">23</text></g>
<g shape-rendering="geometricPrecision"><text transform="translate(227.54,444.2) scale(1.0707,1)" font-size="10.4" fill="#222">24</text></g>
<g shape-rendering="geometricPrecision"><text transform="translate(416.43,444.2) scale(1.0841,1)" font-size="10.4" fill="#222">25</text></g>
<rect x="11" y="448" width="569" height="11" fill="url(#trk)"/>
<rect x="10" y="448" width="570" height="1" fill="#000"/>
<rect x="489.5" y="448.5" width="81" height="11" fill="url(#thm)" stroke="#222" stroke-width="1"/>
<rect x="579" y="448" width="1" height="12" fill="#000"/>
<rect x="481" y="411" width="1" height="37" fill="#2aa7df"/>
<rect x="579" y="411" width="1" height="37" fill="#2aa7df"/>
<rect x="475.5" y="415.5" width="13" height="29" fill="url(#hnd)" stroke="#111" stroke-width="1"/>
<polygon shape-rendering="geometricPrecision" points="479.6,429.2 483.9,425 483.9,433.4" fill="#000"/>
<rect x="572.5" y="415.5" width="13" height="29" fill="url(#hnd)" stroke="#111" stroke-width="1"/>
<polygon shape-rendering="geometricPrecision" points="581.4,429.2 577.1,425 577.1,433.4" fill="#000"/>
</g>
<rect x="10" y="10" width="631" height="1" fill="#000"/>
<rect x="10" y="459" width="631" height="1" fill="#000"/>
<rect x="10" y="10" width="1" height="450" fill="#000"/>
<rect x="640" y="10" width="1" height="450" fill="#000"/>
<rect x="10" y="29" width="631" height="1" fill="#000"/>
<rect x="10" y="312" width="631" height="1" fill="#000"/>
<rect x="10" y="325" width="631" height="1" fill="#000"/>
<rect x="10" y="397" width="631" height="1" fill="#000"/>
<rect x="10" y="410" width="631" height="1" fill="#000"/>
<rect x="579" y="29" width="1" height="284" fill="#000"/>
<rect x="579" y="325" width="1" height="73" fill="#000"/>
<g shape-rendering="geometricPrecision">
<text x="12.1" y="24.8" font-size="12" fill="#000" font-family="Liberation Sans, Noto Sans CJK JP, sans-serif">日付</text>
<text transform="translate(41.38,24) scale(1.1637,1)" font-size="14.0" fill="#000">2025/11/12</text>
<text transform="translate(127.96,24) scale(1.1669,1)" font-size="14.0" fill="#000">15:30</text>
<text x="172.8" y="24.7" font-size="12" fill="#000" font-family="Liberation Sans, Noto Sans CJK JP, sans-serif">始値</text>
<text transform="translate(201.21,24) scale(1.2057,1)" font-size="14.0" fill="#000" font-weight="bold">3,336.78</text>
<text x="271.1" y="24.7" font-size="12" fill="#000" font-family="Liberation Sans, Noto Sans CJK JP, sans-serif">高値</text>
<text transform="translate(299.51,24) scale(1.2018,1)" font-size="14.0" fill="#ff1010" font-weight="bold">3,362.43</text>
<text x="369.6" y="24.7" font-size="12" fill="#000" font-family="Liberation Sans, Noto Sans CJK JP, sans-serif">安値</text>
<text transform="translate(398.11,24) scale(1.2029,1)" font-size="14.0" fill="#1a7a1a" font-weight="bold">3,333.11</text>
<text x="468.1" y="24.7" font-size="12" fill="#000" font-family="Liberation Sans, Noto Sans CJK JP, sans-serif">終値</text>
<text transform="translate(496.51,24) scale(1.2149,1)" font-size="14.0" fill="#000" font-weight="bold">3,359.33</text>
<text transform="translate(582.09,54) scale(1.0245,1)" font-size="13.0" fill="#000">3400</text>
<text transform="translate(582.09,88) scale(1.0245,1)" font-size="13.0" fill="#000">3300</text>
<text transform="translate(582.09,122) scale(1.0245,1)" font-size="13.0" fill="#000">3200</text>
<text transform="translate(582.09,156) scale(1.0245,1)" font-size="13.0" fill="#000">3100</text>
<text transform="translate(582.09,190) scale(1.0245,1)" font-size="13.0" fill="#000">3000</text>
<text transform="translate(581.93,224) scale(1.0303,1)" font-size="13.0" fill="#000">2900</text>
<text transform="translate(581.93,258) scale(1.0303,1)" font-size="13.0" fill="#000">2800</text>
<text transform="translate(581.93,292) scale(1.0303,1)" font-size="13.0" fill="#000">2700</text>
<text transform="translate(582.29,341) scale(1.0265,1)" font-size="13.0" fill="#000">400000</text>
<text transform="translate(582.09,355) scale(1.0312,1)" font-size="13.0" fill="#000">300000</text>
<text transform="translate(581.92,369) scale(1.0351,1)" font-size="13.0" fill="#000">200000</text>
<text transform="translate(581.57,383) scale(1.0434,1)" font-size="13.0" fill="#000">100000</text>
<rect x="11.5" y="269.5" width="107" height="43" fill="#eeeeee" fill-opacity="0.88" stroke="#a6a6a6" stroke-width="1" shape-rendering="crispEdges"/>
<text transform="translate(11.23,280) scale(0.9873,1)" font-size="13.2" fill="#2e8b2e">MA(5)</text>
<text transform="translate(65.19,280) scale(1.0219,1)" font-size="13.2" fill="#2e8b2e">3,322.13</text>
<text transform="translate(11.22,294) scale(0.9934,1)" font-size="13.2" fill="#ff2020">MA(25)</text>
<text transform="translate(65.19,294) scale(1.0214,1)" font-size="13.2" fill="#ff2020">3,264.35</text>
<text transform="translate(11.22,308) scale(0.9934,1)" font-size="13.2" fill="#3838ff">MA(75)</text>
<text transform="translate(65.19,308) scale(1.0206,1)" font-size="13.2" fill="#3838ff">3,140.00</text>
<rect x="10.5" y="324.5" width="146" height="15" fill="#eeeeee" fill-opacity="0.9" stroke="#a6a6a6" stroke-width="1" shape-rendering="crispEdges"/>
<text x="10.5" y="335" font-size="12.1" fill="#3232c8" font-family="Liberation Sans, Noto Sans CJK JP, sans-serif">出来高</text>
<text transform="translate(57.53,335) scale(1.0482,1)" font-size="12.8" fill="#3232c8">2,784,715,300</text>
<text x="144.8" y="335" font-size="11.5" fill="#3232c8" font-family="Liberation Sans, Noto Sans CJK JP, sans-serif">株</text>
<text transform="translate(609.32,394.5) scale(0.8199,1)" font-size="11.5" fill="#222">(</text>
<text x="613.1" y="394.5" font-size="10.2" fill="#222" font-family="Liberation Sans, Noto Sans CJK JP, sans-serif">万</text>
<text x="624.7" y="394.7" font-size="9.8" fill="#222" font-family="Liberation Sans, Noto Sans CJK JP, sans-serif">株</text>
<text transform="translate(634.85,394.5) scale(0.7871,1)" font-size="11.5" fill="#222">)</text>
<text transform="translate(73.24,321) scale(1.0731,1)" font-size="10.3" fill="#222">6</text>
<text transform="translate(73.24,406) scale(1.0731,1)" font-size="10.3" fill="#222">6</text>
<text transform="translate(165.22,321) scale(1.0892,1)" font-size="10.3" fill="#222">7</text>
<text transform="translate(165.22,406) scale(1.0892,1)" font-size="10.3" fill="#222">7</text>
<text transform="translate(261.33,321) scale(1.0552,1)" font-size="10.3" fill="#222">8</text>
<text transform="translate(261.33,406) scale(1.0552,1)" font-size="10.3" fill="#222">8</text>
<text transform="translate(348.28,321) scale(1.0719,1)" font-size="10.3" fill="#222">9</text>
<text transform="translate(348.28,406) scale(1.0719,1)" font-size="10.3" fill="#222">9</text>
<text transform="translate(436.10,321) scale(1.0224,1)" font-size="10.3" fill="#222">10</text>
<text transform="translate(436.10,406) scale(1.0224,1)" font-size="10.3" fill="#222">10</text>
<text transform="translate(532.69,321) scale(0.9047,1)" font-size="10.3" fill="#222">11</text>
<text transform="translate(532.69,406) scale(0.9047,1)" font-size="10.3" fill="#222">11</text>
</g>
</svg>
</body></html>
